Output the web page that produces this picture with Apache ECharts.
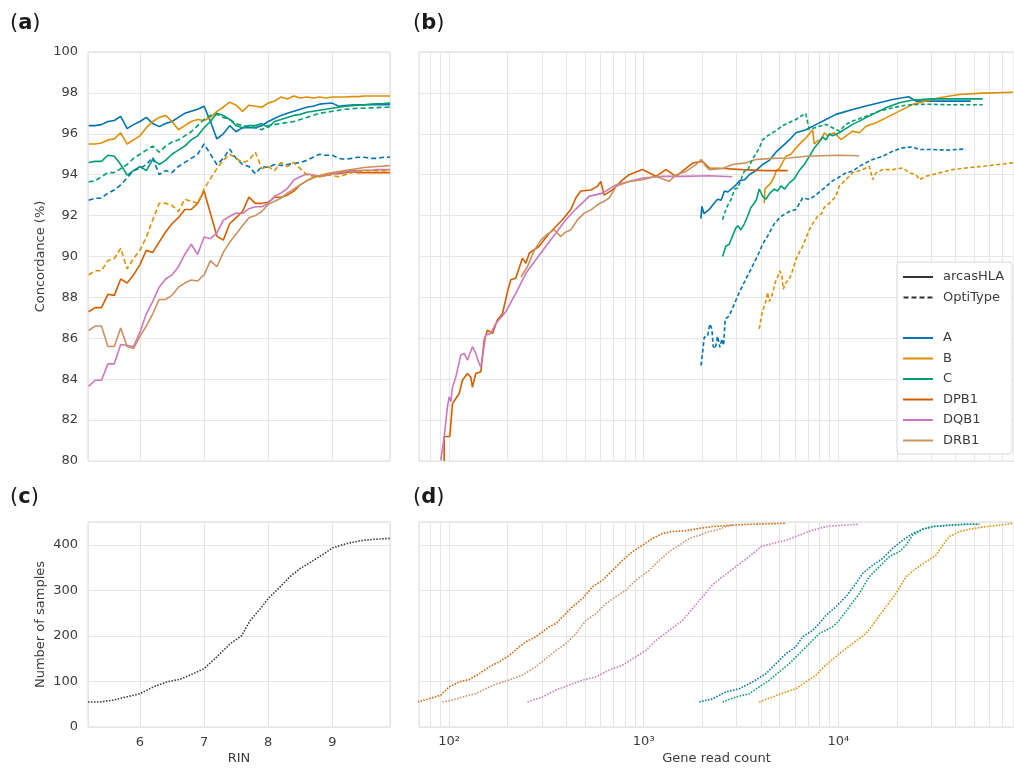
<!DOCTYPE html>
<html>
<head>
<meta charset="utf-8">
<script src="https://cdn.jsdelivr.net/npm/echarts@6/dist/echarts.min.js"></script>
<style>
  html, body { margin: 0; padding: 0; background: #fff; }
  #main { width: 1014px; height: 770px; }
</style>
</head>
<body>
<div id="main"></div>
<script>
// ---- (a) running concordance vs RIN ----
const rin = [5.2, 5.3, 5.4, 5.5, 5.6, 5.7, 5.8, 5.9, 6.0, 6.1, 6.2, 6.3, 6.4, 6.5, 6.6, 6.7, 6.8, 6.9,
  7.0, 7.1, 7.2, 7.3, 7.4, 7.5, 7.6, 7.7, 7.8, 7.9, 8.0, 8.1, 8.2, 8.3, 8.4, 8.5, 8.6, 8.7, 8.8, 8.9,
  9.0, 9.1, 9.2, 9.3, 9.4, 9.5, 9.6, 9.7, 9.8, 9.9]
const aA = [96.4, 96.4, 96.45, 96.6, 96.65, 96.85, 96.25, 96.45,
  96.6, 96.8, 96.5, 96.35, 96.5, 96.6, 96.8, 97.0, 97.1, 97.2,
  97.35, 96.6, 95.75, 96.0, 96.4, 96.1, 96.3, 96.3, 96.3, 96.4,
  96.6, 96.75, 96.9, 97.0, 97.1, 97.2, 97.3, 97.35, 97.45, 97.48,
  97.5, 97.35, 97.38, 97.4, 97.42, 97.42, 97.42, 97.42, 97.42, 97.42]
const aAopti = [92.75, 92.85, 92.85, 93.1, 93.25, 93.5, 93.85, 94.2,
  94.3, 94.5, 94.85, 94.0, 94.2, 94.1, 94.4, 94.6, 94.8, 95.0,
  95.5, 95.0, 94.5, 94.8, 95.25, 94.8, 94.5, 94.4, 94.05, 94.4,
  94.35, 94.5, 94.45, 94.5, 94.55, 94.6, 94.7, 94.85, 95.0, 94.95,
  94.95, 94.8, 94.75, 94.8, 94.85, 94.85, 94.8, 94.8, 94.85, 94.85]
const aB = [95.5, 95.5, 95.55, 95.7, 95.75, 96.05, 95.5, 95.7,
  95.9, 96.3, 96.6, 96.8, 96.9, 96.6, 96.2, 96.4, 96.6, 96.7,
  96.65, 96.8, 97.1, 97.3, 97.55, 97.4, 97.1, 97.4, 97.35, 97.3,
  97.5, 97.6, 97.8, 97.7, 97.85, 97.75, 97.8, 97.75, 97.8, 97.75,
  97.8, 97.8, 97.8, 97.82, 97.82, 97.85, 97.85, 97.85, 97.85, 97.85]
const aBopti = [89.1, 89.3, 89.3, 89.8, 89.9, 90.4, 89.4, 89.9,
  90.3, 90.95, 91.8, 92.6, 92.6, 92.5, 92.2, 92.8, 92.7, 92.6,
  93.3, 93.8, 94.3, 94.7, 95.0, 94.8, 94.6, 94.7, 95.1, 94.3,
  94.4, 94.2, 94.6, 94.4, 94.6, 94.3, 94.0, 93.93, 93.9, 94.0,
  93.95, 93.9, 94.0, 94.1, 94.15, 94.2, 94.2, 94.2, 94.2, 94.2]
const aC = [94.6, 94.65, 94.65, 94.95, 94.9, 94.5, 93.98, 94.2,
  94.4, 94.2, 94.75, 94.5, 94.7, 95.0, 95.2, 95.4, 95.7, 95.9,
  96.3, 96.6, 97.0, 96.9, 96.7, 96.4, 96.3, 96.4, 96.4, 96.5,
  96.3, 96.6, 96.7, 96.8, 96.9, 96.95, 97.05, 97.1, 97.15, 97.2,
  97.25, 97.3, 97.35, 97.38, 97.4, 97.42, 97.45, 97.47, 97.48, 97.5]
const aCopti = [93.65, 93.7, 93.9, 94.1, 94.1, 94.3, 94.5, 94.8,
  95.0, 95.2, 95.4, 95.1, 95.4, 95.6, 95.7, 95.9, 96.1, 96.4,
  96.7, 96.9, 96.95, 96.8, 96.7, 96.5, 96.4, 96.35, 96.3, 96.2,
  96.4, 96.45, 96.5, 96.55, 96.6, 96.7, 96.8, 96.9, 97.0, 97.05,
  97.1, 97.15, 97.2, 97.22, 97.25, 97.25, 97.27, 97.28, 97.3, 97.3]
const aDPB1 = [87.3, 87.5, 87.5, 88.15, 88.1, 88.9, 88.7, 89.1,
  89.6, 90.3, 90.2, 90.7, 91.2, 91.6, 91.9, 92.3, 92.3, 92.6,
  93.2, 92.1, 91.0, 90.8, 91.6, 91.9, 92.2, 92.9, 92.6, 92.6,
  92.65, 92.9, 92.9, 93.0, 93.2, 93.5, 93.7, 93.85, 93.95, 94.0,
  94.05, 94.05, 94.1, 94.15, 94.1, 94.1, 94.1, 94.1, 94.1, 94.1]
const aDQB1 = [83.65, 83.95, 83.95, 84.75, 84.75, 85.7, 85.65, 85.6,
  86.3, 87.2, 87.8, 88.5, 88.9, 89.1, 89.5, 90.1, 90.6, 90.1,
  90.95, 90.87, 91.15, 91.77, 91.97, 92.13, 92.1, 92.34, 92.43, 92.43,
  92.6, 92.95, 93.1, 93.33, 93.74, 93.9, 94.03, 94.0, 93.9, 93.95,
  94.05, 94.1, 94.15, 94.2, 94.2, 94.22, 94.22, 94.25, 94.25, 94.25]
const aDRB1 = [86.38, 86.6, 86.6, 85.6, 85.6, 86.5, 85.6, 85.5,
  86.1, 86.6, 87.2, 87.9, 87.9, 88.1, 88.5, 88.7, 88.85, 88.8,
  89.1, 89.8, 89.5, 90.2, 90.7, 91.1, 91.5, 91.9, 92.0, 92.2,
  92.55, 92.7, 92.85, 93.1, 93.3, 93.5, 93.7, 93.85, 93.95, 94.05,
  94.1, 94.15, 94.2, 94.25, 94.3, 94.35, 94.38, 94.4, 94.42, 94.45]

// ---- (b) running concordance vs gene read count, [count, %] ----
const bA = [[1968, 91.85], [1990, 92.45], [2040, 92.1], [2172, 92.3], [2300, 92.6], [2399, 92.8], [2500, 92.75],
  [2602, 93.2], [2700, 93.15], [2816, 93.3], [2950, 93.45], [3108, 93.7], [3300, 93.75], [3487, 94.0],
  [3773, 94.2], [4083, 94.5], [4418, 94.7], [4781, 95.1], [5173, 95.4], [5600, 95.7], [6058, 96.05],
  [6821, 96.2], [7679, 96.45], [8642, 96.7], [9727, 96.95], [11850, 97.19], [13874, 97.36], [16250, 97.52],
  [19031, 97.68], [21423, 97.76], [23000, 97.81], [25083, 97.6], [30549, 97.6], [48000, 97.6]]
const bAopti = [[1968, 84.67], [2007, 85.3], [2047, 86.05], [2128, 86.1], [2188, 86.7], [2241, 86.45], [2276, 85.6],
  [2332, 85.5], [2397, 86.1], [2464, 85.56], [2523, 85.97], [2573, 85.65], [2624, 86.94], [2752, 87.1],
  [2919, 87.67], [3097, 88.24], [3221, 88.57], [3418, 89.06], [3627, 89.54], [3848, 90.03], [4083, 90.6],
  [4330, 91.0], [4688, 91.6], [5073, 91.96], [5600, 92.2], [6058, 92.3], [6556, 92.86], [7097, 92.8],
  [7527, 92.95], [8307, 93.28], [9354, 93.7], [9922, 93.84], [10950, 94.09], [11850, 94.17], [12823, 94.41],
  [13874, 94.58], [15016, 94.74], [16903, 94.9], [19031, 95.15], [21423, 95.31], [24115, 95.36],
  [26000, 95.23], [30549, 95.23], [36000, 95.2], [45350, 95.26]]
const bB = [[4165, 92.6], [4200, 93.3], [4506, 93.6], [4688, 93.9], [4800, 94.2], [4974, 94.3], [5175, 94.6],
  [5382, 94.9], [5712, 95.0], [6058, 95.3], [6427, 95.57], [6821, 95.8], [7237, 96.1], [7380, 96.2],
  [7527, 95.5], [7800, 95.65], [8147, 95.7], [8472, 96.05], [8815, 95.9], [9540, 96.05], [10320, 95.72],
  [11850, 96.13], [12823, 96.05], [13874, 96.37], [15622, 96.54], [17587, 96.78], [20590, 97.11],
  [24115, 97.44], [28230, 97.6], [33050, 97.76], [41900, 97.92], [55210, 97.99], [79000, 98.03]]
const bBopti = [[3925, 86.46], [4003, 86.94], [4083, 87.35], [4212, 87.67], [4330, 88.24], [4418, 87.8],
  [4559, 88.1], [4741, 88.73], [4873, 89.0], [5010, 89.3], [5129, 89.06], [5212, 88.4], [5378, 88.73],
  [5600, 88.9], [5822, 89.3], [6058, 89.87], [6302, 90.2], [6556, 90.5], [6821, 90.9], [7097, 91.3],
  [7380, 91.6], [7832, 91.97], [8200, 92.1], [8472, 92.4], [8994, 92.6], [9727, 92.95], [10119, 93.43],
  [10950, 93.76], [11850, 94.09], [13339, 94.25], [14434, 94.41], [15016, 93.76], [15622, 94.09],
  [16903, 94.25], [19031, 94.25], [21423, 94.33], [23200, 94.09], [25083, 94.0], [26100, 93.76],
  [28230, 93.92], [33050, 94.09], [38710, 94.25], [45350, 94.33], [55210, 94.41], [79000, 94.58]]
const bC = [[2543, 90.0], [2641, 90.5], [2750, 90.6], [2861, 91.0], [2976, 91.4], [3050, 91.5], [3158, 91.3],
  [3290, 91.6], [3418, 91.97], [3556, 92.4], [3700, 92.6], [3800, 92.8], [3925, 93.3], [4083, 92.95],
  [4246, 92.8], [4450, 93.1], [4688, 93.3], [4870, 93.2], [5073, 93.45], [5300, 93.3], [5599, 93.6],
  [5940, 93.8], [6302, 94.2], [6686, 94.5], [7097, 94.9], [7526, 95.3], [7986, 95.6], [8300, 95.85],
  [8642, 95.7], [9000, 96.0], [9354, 95.9], [10119, 96.05], [11850, 96.46], [12823, 96.62], [15016, 96.95],
  [17587, 97.27], [20590, 97.52], [24115, 97.65], [30549, 97.71], [55210, 97.71]]
const bCopti = [[2543, 91.8], [2596, 92.1], [2700, 92.5], [2816, 92.8], [2930, 93.3], [3047, 93.35],
  [3158, 93.76], [3290, 94.17], [3418, 94.2], [3556, 94.6], [3700, 94.9], [3925, 95.3], [4083, 95.7],
  [4330, 95.9], [4594, 96.05], [4871, 96.2], [5173, 96.4], [5599, 96.55], [6058, 96.7], [6425, 96.86],
  [6800, 97.0], [7094, 96.21], [7600, 96.3], [7986, 96.37], [8641, 96.46], [10119, 96.13], [10950, 96.46],
  [11850, 96.62], [13874, 96.86], [16250, 97.11], [19031, 97.27], [22284, 97.4], [28230, 97.45],
  [37215, 97.42], [55210, 97.42]]
const bDPB1 = [[94.3, 80.0], [94.3, 81.2], [100.8, 81.2], [104, 82.8], [112.6, 83.3], [117, 83.95],
  [124.2, 84.28], [129.2, 84.1], [131.8, 83.6], [137, 84.28], [145.5, 84.36], [151.4, 85.9], [157.5, 86.4],
  [167.1, 86.24], [177, 86.9], [188, 87.2], [199.5, 88.28], [207.4, 88.86], [220, 88.94], [238, 89.92],
  [248, 89.67], [258, 90.16], [290, 90.5], [327, 91.14], [353.6, 91.47], [382, 91.8], [422, 92.3],
  [450, 92.9], [475, 93.2], [535, 93.25], [578, 93.43], [602, 93.67], [626, 93.0], [691.6, 93.26],
  [778.5, 93.75], [842, 94.0], [986, 94.25], [1155, 93.92], [1300, 94.25], [1465, 93.92], [1783, 94.57],
  [2007, 94.65], [2172, 94.33], [2600, 94.3], [3200, 94.25], [4200, 94.2], [5500, 94.2]]
const bDQB1 = [[90.6, 80.03], [94.3, 81.18], [98, 82.65], [100, 83.14], [102, 82.9], [104, 83.6],
  [108.2, 84.1], [114.8, 85.18], [119.4, 85.26], [124.2, 84.93], [131.8, 85.59], [137, 85.26],
  [142.6, 84.77], [145.5, 84.6], [154.3, 86.16], [163.8, 86.24], [173.8, 86.73], [195.6, 87.3],
  [220, 88.2], [248, 89.18], [279, 89.84], [314, 90.5], [353.6, 91.14], [398, 91.8], [448, 92.32],
  [524, 92.94], [614, 93.1], [719, 93.5], [842, 93.67], [986, 93.84], [1250, 93.92], [1584, 93.92],
  [2172, 93.95], [2850, 93.9]]
const bDRB1 = [[233.6, 89.0], [252.7, 89.5], [273.5, 90.3], [296, 90.8], [320, 91.1], [346.7, 91.3],
  [375, 90.98], [398, 91.2], [422, 91.3], [457, 91.8], [494.6, 92.12], [535, 92.28], [579, 92.53],
  [626, 92.7], [664.6, 92.86], [705, 93.26], [719, 93.43], [842, 93.67], [986, 93.75], [1155, 93.92],
  [1352, 93.67], [1465, 94.0], [1648, 94.16], [1855, 94.49], [1975, 94.74], [2087, 94.4], [2172, 94.25],
  [2543, 94.3], [2862, 94.5], [3350, 94.58], [3773, 94.74], [4596, 94.8], [5600, 94.82], [6821, 94.9],
  [8307, 94.93], [10119, 94.95], [12800, 94.93]]

// ---- (c) number of samples vs RIN ----
const cRin = [5.19, 5.38, 5.58, 5.79, 6.0, 6.21, 6.42, 6.63, 6.83, 7.0, 7.2, 7.41, 7.59, 7.72, 7.88,
  8.0, 8.19, 8.34, 8.5, 8.71, 8.92, 9.0, 9.23, 9.44, 9.65, 9.9]
const cCount = [55, 55, 59, 66, 73, 88, 99, 105, 117, 128, 154, 183, 201, 234, 260,
  282, 308, 330, 348, 366, 385, 393, 403, 409, 412, 414]

// ---- (d) number of samples vs gene read count, [count, samples] ----
const dDPB1 = [[68.8, 55], [78.9, 62], [90.6, 70], [100, 88], [112.6, 99], [126.7, 104], [142.6, 117],
  [160.6, 132], [180.7, 143], [203.5, 157], [229, 176], [248, 187], [279, 198], [302, 209], [327, 220],
  [353.6, 227], [382.6, 242], [430.7, 264], [485, 282], [546, 308], [614, 322], [691.6, 344],
  [778.5, 366], [876, 385], [986, 399], [1110, 414], [1250, 425], [1407, 429], [1648, 431], [1929, 436],
  [2259, 440], [3100, 444], [4200, 446], [5380, 447]]
const dDRB1 = [[92.4, 55], [104, 59], [117, 66], [137, 73], [154.3, 84], [173.8, 94], [203.5, 103],
  [238, 114], [279, 132], [314, 150], [353.6, 168], [398, 183], [448, 205], [504, 234], [567.6, 249],
  [639, 271], [719, 286], [810, 300], [911, 322], [986, 333], [1067, 344], [1202, 366], [1352, 385],
  [1522, 399], [1714, 414], [1929, 421], [2172, 429], [2450, 434], [2645, 440], [2900, 444]]
const dDQB1 = [[252.8, 55], [302, 66], [353.6, 81], [414, 92], [485, 103], [567.6, 110], [664.6, 125],
  [778.5, 136], [911, 154], [1026, 168], [1155, 190], [1352, 212], [1584, 234], [1783, 260],
  [2007, 286], [2259, 312], [2543, 330], [2977, 352], [3487, 374], [4003, 396], [4596, 403],
  [5382, 410], [6302, 421], [7379, 432], [8641, 440], [10527, 443], [12823, 445]]
const dA = [[1929, 55], [2259, 62], [2645, 77], [3097, 84], [3627, 99], [4247, 117], [4781, 139],
  [5382, 161], [6058, 176], [6556, 198], [7379, 212], [7986, 227], [8641, 245], [9727, 264],
  [10950, 286], [12326, 315], [13339, 337], [15016, 355], [16903, 370], [19031, 392], [21423, 410],
  [24115, 425], [27139, 434], [30549, 440], [37215, 443], [45350, 445], [53070, 445]]
const dC = [[2543, 55], [2977, 66], [3487, 73], [3925, 88], [4418, 103], [4974, 121], [5599, 139],
  [6302, 161], [7094, 183], [7986, 205], [9352, 220], [10119, 234], [11392, 264], [12823, 293],
  [14434, 330], [16250, 352], [18293, 374], [20590, 385], [22284, 399], [24115, 421], [27139, 434],
  [30549, 440], [37215, 443], [45350, 445], [53070, 445]]
const dB = [[3925, 55], [4596, 66], [5382, 77], [6058, 84], [6820, 99], [7677, 114], [8641, 136],
  [10119, 161], [11850, 183], [13874, 205], [15622, 234], [17587, 264], [19796, 293], [22284, 330],
  [25083, 348], [28230, 363], [31772, 377], [34380, 399], [37215, 418], [41900, 429], [47170, 434],
  [57430, 440], [67280, 443], [78760, 447]]

// log-axis minor grid positions
const minorTicks = [80, 90, 200, 300, 400, 500, 600, 700, 800, 900,
  2000, 3000, 4000, 5000, 6000, 7000, 8000, 9000, 20000, 30000, 40000, 50000, 60000, 70000]

const loci = ['A', 'B', 'C', 'DPB1', 'DQB1', 'DRB1']
const colors = { A: '#0173b2', B: '#de8f05', C: '#029e73', DPB1: '#d55e00', DQB1: '#cc78bc', DRB1: '#ca9161' }

const FONT = 'DejaVu Sans'
const TXT = '#3c3c3c'
const GRID_LINE = '#e6e6e6'
const SUP = { 1: '¹', 2: '²', 3: '³', 4: '⁴', 5: '⁵' }

const zip = (xs, ys) => xs.map((x, i) => [x, ys[i]])

const line = (name, axis, data, dash, width) => ({
  type: 'line',
  name: name,
  xAxisIndex: axis,
  yAxisIndex: axis,
  data: data,
  showSymbol: false,
  symbol: 'none',
  silent: true,
  color: colors[name] || '#333',
  lineStyle: { width: width || 1.6, type: dash || 'solid', color: colors[name] || '#333' },
  emphasis: { disabled: true },
  z: 3
})

const minorGrid = axis => ({
  type: 'line',
  xAxisIndex: axis,
  yAxisIndex: axis,
  data: [],
  silent: true,
  markLine: {
    silent: true,
    symbol: 'none',
    z: 1,
    animation: false,
    label: { show: false },
    lineStyle: { color: GRID_LINE, width: 1, type: 'solid' },
    data: minorTicks.map(v => ({ xAxis: v }))
  }
})

const valueX = (grid, showLabel, name) => ({
  type: 'value',
  gridIndex: grid,
  min: 5.19,
  max: 9.9,
  splitNumber: 5,
  name: name,
  nameLocation: 'middle',
  nameGap: 25,
  nameTextStyle: { fontFamily: FONT, fontSize: 13, color: TXT },
  axisLine: { show: false },
  axisTick: { show: false },
  axisLabel: { show: showLabel, showMinLabel: false, showMaxLabel: false, fontFamily: FONT, fontSize: 13, color: TXT, margin: 9 },
  splitLine: { lineStyle: { color: GRID_LINE } }
})

const logX = (grid, showLabel, name) => ({
  type: 'log',
  logBase: 10,
  gridIndex: grid,
  min: 70,
  max: 80000,
  name: name,
  nameLocation: 'middle',
  nameGap: 25,
  nameTextStyle: { fontFamily: FONT, fontSize: 13, color: TXT },
  axisLine: { show: false },
  axisTick: { show: false },
  axisLabel: {
    show: showLabel, showMinLabel: false, showMaxLabel: false,
    fontFamily: FONT, fontSize: 13, color: TXT, margin: 8,
    formatter: v => '10' + SUP[Math.round(Math.log10(v))]
  },
  splitLine: { lineStyle: { color: GRID_LINE } }
})

const valueY = (grid, min, max, step, showLabel, name) => ({
  type: 'value',
  gridIndex: grid,
  min: min,
  max: max,
  interval: step,
  name: name,
  nameLocation: 'middle',
  nameGap: 41,
  nameTextStyle: { fontFamily: FONT, fontSize: 13, color: TXT },
  axisLine: { show: false },
  axisTick: { show: false },
  axisLabel: { show: showLabel, showMaxLabel: max % step === 0, fontFamily: FONT, fontSize: 13, color: TXT, margin: 10 },
  splitLine: { lineStyle: { color: GRID_LINE } }
})

const panelTitle = (letter, left, top) => ({
  text: '{p|(}{b|' + letter + '}{p|)}',
  left: left,
  top: top,
  padding: 0,
  textStyle: {
    fontWeight: 'normal',
    rich: {
      p: { fontFamily: FONT, fontSize: 21, fontWeight: 'normal', color: '#1a1a1a' },
      b: { fontFamily: FONT, fontSize: 21, fontWeight: 'bold', color: '#1a1a1a' }
    }
  }
})

const gridBox = { show: true, borderColor: '#dcdcdc', borderWidth: 1, backgroundColor: '#fff' }

const series = [minorGrid(1), minorGrid(3)]

// (a)
series.push(line('A', 0, zip(rin, aA)))
series.push(line('B', 0, zip(rin, aB)))
series.push(line('C', 0, zip(rin, aC)))
series.push(line('DPB1', 0, zip(rin, aDPB1)))
series.push(line('DQB1', 0, zip(rin, aDQB1)))
series.push(line('DRB1', 0, zip(rin, aDRB1)))
series.push(line('A', 0, zip(rin, aAopti), [5, 3]))
series.push(line('B', 0, zip(rin, aBopti), [5, 3]))
series.push(line('C', 0, zip(rin, aCopti), [5, 3]))

// (b)
series.push(line('A', 1, bA))
series.push(line('B', 1, bB))
series.push(line('C', 1, bC))
series.push(line('DPB1', 1, bDPB1))
series.push(line('DQB1', 1, bDQB1))
series.push(line('DRB1', 1, bDRB1))
series.push(line('A', 1, bAopti, [4, 2.5]))
series.push(line('B', 1, bBopti, [4, 2.5]))
series.push(line('C', 1, bCopti, [4, 2.5]))

// legend-only entries
series.push(line('arcasHLA', 1, []))
series.push(line('OptiType', 1, [], [4, 2]))

// (c)
series.push(Object.assign(line('samples', 2, zip(cRin, cCount), [1.5, 1.5], 1.6), {
  color: '#3a3a3a', lineStyle: { width: 1.6, type: [1.5, 1.5], color: '#3a3a3a' }
}))

// (d)
series.push(line('DPB1', 3, dDPB1, [1.5, 1.5]))
series.push(line('DRB1', 3, dDRB1, [1.5, 1.5]))
series.push(line('DQB1', 3, dDQB1, [1.5, 1.5]))
series.push(line('A', 3, dA, [1.5, 1.5]))
series.push(line('C', 3, dC, [1.5, 1.5]))
series.push(line('B', 3, dB, [1.5, 1.5]))

const legendBase = {
  orient: 'vertical',
  left: 903,
  padding: 0,
  itemWidth: 30,
  itemHeight: 2,
  itemGap: 6.5,
  selectedMode: false,
  z: 12,
  itemStyle: { borderWidth: 0 },
  textStyle: { fontFamily: FONT, fontSize: 13, color: TXT, lineHeight: 14, padding: [0, 0, 0, 5] }
}

const option = {
  animation: false,
  backgroundColor: '#fff',
  textStyle: { fontFamily: FONT },
  title: [
    panelTitle('a', 10, 13),
    panelTitle('b', 413, 13),
    panelTitle('c', 10, 487),
    panelTitle('d', 413, 487)
  ],
  grid: [
    Object.assign({ left: 88, top: 52, width: 302, height: 409 }, gridBox),
    Object.assign({ left: 419, top: 52, width: 595, height: 409 }, gridBox),
    Object.assign({ left: 88, top: 522, width: 302, height: 205 }, gridBox),
    Object.assign({ left: 419, top: 522, width: 595, height: 205 }, gridBox)
  ],
  xAxis: [
    valueX(0, false, ''),
    logX(1, false, ''),
    valueX(2, true, 'RIN'),
    logX(3, true, 'Gene read count')
  ],
  yAxis: [
    valueY(0, 80, 100, 2, true, 'Concordance (%)'),
    valueY(1, 80, 100, 2, false, ''),
    valueY(2, 0, 450, 100, true, 'Number of samples'),
    valueY(3, 0, 450, 100, false, '')
  ],
  legend: [
    Object.assign({}, legendBase, {
      top: 270,
      data: [
        { name: 'arcasHLA', icon: 'rect' },
        { name: 'OptiType', icon: 'path://M0,0h5v2h-5z M8,0h5v2h-5z M16,0h5v2h-5z M24,0h5v2h-5z' }
      ]
    }),
    Object.assign({}, legendBase, {
      top: 331,
      data: loci.map(n => ({ name: n, icon: 'rect' }))
    })
  ],
  graphic: [
    {
      type: 'rect',
      z: 10,
      silent: true,
      shape: { x: 897, y: 262, width: 115, height: 192, r: 3 },
      style: { fill: '#fff', stroke: '#d6d6d6', lineWidth: 1 }
    }
  ],
  series: series
}

const chart = echarts.init(document.getElementById('main'), null, { renderer: 'canvas' })
chart.setOption(option)
</script>
</body>
</html>
